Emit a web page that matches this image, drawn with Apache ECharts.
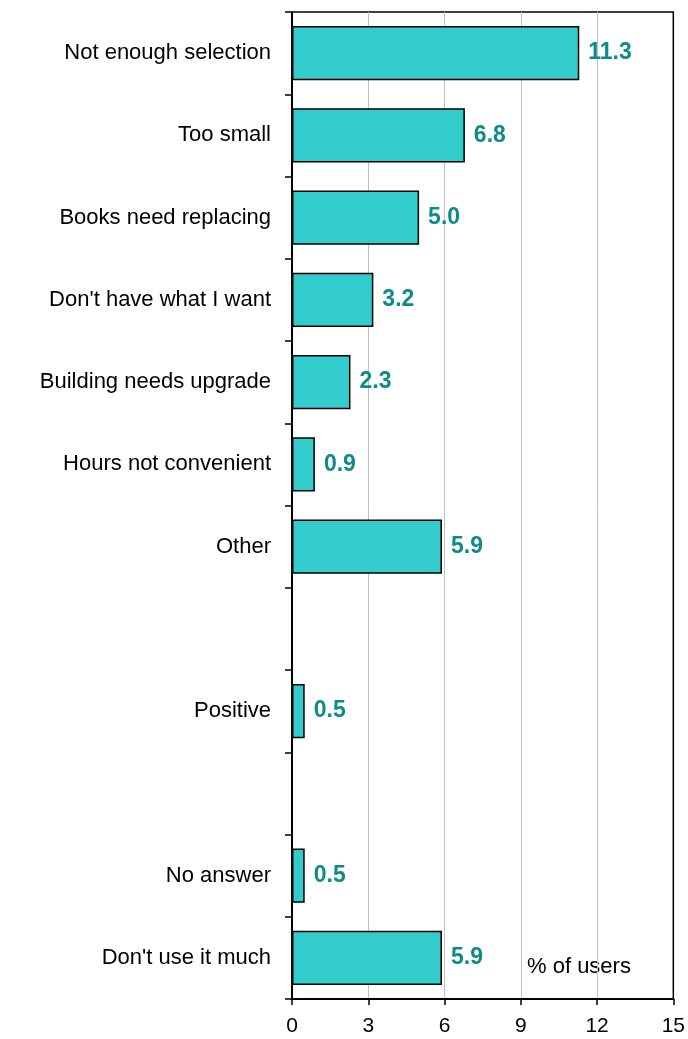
<!DOCTYPE html>
<html><head><meta charset="utf-8">
<script src="https://cdn.jsdelivr.net/npm/echarts@6/dist/echarts.min.js"></script>
<style>html,body{margin:0;padding:0;background:#fff}#c{width:688px;height:1039px}</style>
</head><body><div id="c"></div>
<script>
const categories = ['Not enough selection','Too small','Books need replacing',"Don't have what I want",'Building needs upgrade','Hours not convenient','Other','','Positive',' ','No answer',"Don't use it much"];
const values = [11.3, 6.8, 5.0, 3.2, 2.3, 0.9, 5.9, null, 0.5, null, 0.5, 5.9];
const xTicks = [0, 3, 6, 9, 12, 15];
const unitLabel = '% of users';
const font = '"Liberation Sans", Arial, sans-serif';

const chart = echarts.init(document.getElementById('c'), null, {renderer:'canvas'});
chart.setOption({
  animation: false,
  grid: {left: 292, right: 14, top: 12, bottom: 40, show: true, borderColor: '#000', borderWidth: 1.5, containLabel: false},
  xAxis: {
    type: 'value', min: xTicks[0], max: xTicks[xTicks.length-1], interval: 3,
    axisLine: {show: true, lineStyle: {color: '#000', width: 2}},
    axisTick: {show: true, length: 6, lineStyle: {color: '#000', width: 1.5}},
    axisLabel: {color: '#000', fontSize: 21, fontFamily: font, margin: 17},
    splitLine: {show: true, lineStyle: {color: xTicks.map((t, i) => i === xTicks.length - 1 ? '#000' : '#c0c0c0'), width: 1}}
  },
  yAxis: {
    type: 'category', data: categories, inverse: true,
    axisLine: {show: true, lineStyle: {color: '#000', width: 2}},
    axisTick: {show: true, length: 7, lineStyle: {color: '#000', width: 1.5}},
    axisLabel: {color: '#000', fontSize: 22, fontFamily: font, margin: 21}
  },
  series: [{
    type: 'bar', data: values, barCategoryGap: '34%',
    itemStyle: {color: '#33CCCC', borderColor: '#000', borderWidth: 1.5},
    label: {show: true, position: 'right', distance: 9, color: '#0E8A8A', fontWeight: 'bold', fontSize: 23, fontFamily: font,
      formatter: p => p.value == null ? '' : Number(p.value).toFixed(1)}
  }],
  graphic: [{type: 'text', left: 527, top: 956, style: {text: unitLabel, fill: '#000', font: '22px ' + font}}]
});
</script></body></html>
